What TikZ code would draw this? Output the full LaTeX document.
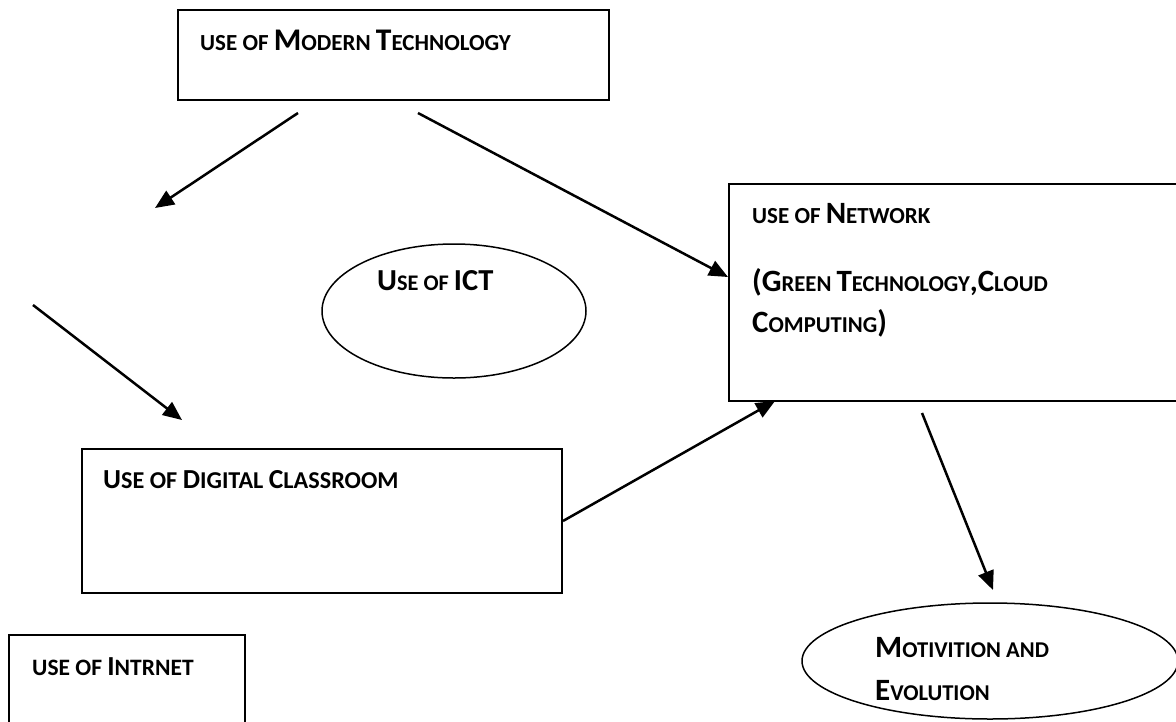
\documentclass[tikz,border=0pt]{standalone}
\usepackage{fontspec}
\setmainfont{Carlito}
\usetikzlibrary{arrows.meta,shapes.geometric,positioning}
\newcommand{\bigsize}{31}
\newcommand{\bigc}[1]{{\fontsize{\bigsize}{34}\selectfont #1}}

\begin{document}
\begin{tikzpicture}[x=1pt,y=-1pt,
	panel/.style={draw,rectangle,line width=2pt,inner sep=0pt},
	oval/.style={draw,ellipse,line width=1.5pt,inner sep=0pt},
	txt/.style 2 args={anchor=base west,inner sep=0pt,font=\renewcommand{\bigsize}{#2}\fontsize{#1}{25}\selectfont\bfseries},
	arr/.style={line width=2.5pt,-{Triangle[length=19pt,width=16pt]}}]
		\useasboundingbox (0,0) rectangle (1176,721);
		% boxes and ovals
		\node[panel,minimum width=431pt,minimum height=90pt] (modern) at (393.5,55) {};
		\node[panel,minimum width=471pt,minimum height=217pt] (network) at (964.5,292.5) {};
		\node[panel,minimum width=480pt,minimum height=144pt] (digital) at (322,521) {};
		\node[panel,minimum width=236pt,minimum height=105pt] (internet) at (127,687.5) {};
		\node[oval,minimum width=264pt,minimum height=134pt] (ict) at (454,311) {};
		\node[oval,minimum width=376pt,minimum height=116pt] (motiv) at (990,661) {};
		% texts
		\node[txt={23}{31.5}] (tmodern) at (200,50) {USE OF \bigc{M}ODERN \bigc{T}ECHNOLOGY};
		\node[txt={23}{31}] (tnet1) at (752,223) {USE OF \bigc{N}ETWORK};
		\node[txt={22.7}{31}] (tnet2) at (752,291) {\bigc{(G}REEN \bigc{T}ECHNOLOGY\bigc{,C}LOUD};
		\node[txt={22.7}{31}] (tnet3) at (752,332) {\bigc{C}OMPUTING\bigc{)}};
		\node[txt={24.2}{27.5}] (tdigital) at (103,488) {\bigc{U}SE OF \bigc{D}IGITAL \bigc{C}LASSROOM};
		\node[txt={23.5}{27.5}] (tinternet) at (32,675) {USE OF \bigc{I}NTRNET};
		\node[txt={22.3}{30.5}] (tict) at (377,290) {\bigc{U}SE OF \bigc{ICT}};
		\node[txt={22.6}{31}] (tmotiv1) at (875,657) {\bigc{M}OTIVITION AND};
		\node[txt={22.6}{31}] (tmotiv2) at (875,700) {\bigc{E}VOLUTION};
		% arrow ends
		\coordinate (a1) at (298,113);
		\coordinate (b1) at (155,208);
		\coordinate (a2) at (418,113);
		\coordinate (b2) at (728,277);
		\coordinate (a3) at (33,305);
		\coordinate (b3) at (182,420);
		\coordinate (b4) at (775,401);
		\coordinate (a5) at (922,413);
		\coordinate (b5) at (993,590);
		\draw[arr] (a1) -- (b1);
		\draw[arr] (a2) -- (b2);
		\draw[arr] (a3) -- (b3);
		\draw[arr] (digital.east) -- (b4);
		\draw[arr] (a5) -- (b5);
	\end{tikzpicture}
\end{document}
